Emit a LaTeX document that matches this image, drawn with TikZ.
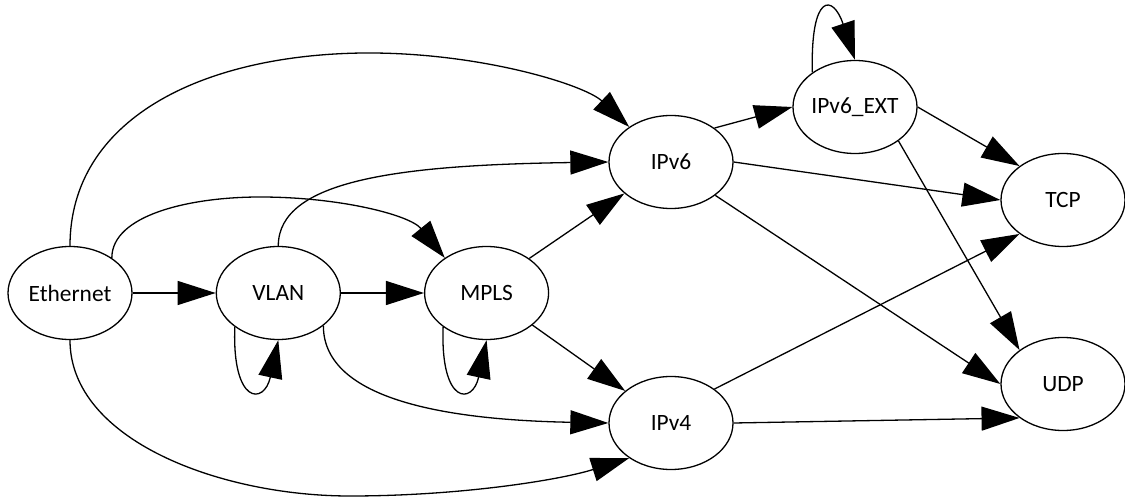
\documentclass[tikz,border=0pt]{standalone}
\usepackage{fontspec}
\setmainfont{Carlito}
\usetikzlibrary{arrows.meta}
\usetikzlibrary{shapes.geometric}
\usetikzlibrary{positioning}

\begin{document}
\begin{tikzpicture}[x=0.5pt,y=-0.5pt]

\tikzset{
    proto/.style={draw, ellipse, line width=0.65pt, minimum width=\W pt, minimum height=\H pt,
        inner sep=0pt, font=\fontsize{11.7}{14}\selectfont},
    myarrow/.style={-{Triangle[length=19pt,width=12pt]}, line width=0.65pt}
}

\pgfmathsetmacro{\W}{62}
\pgfmathsetmacro{\H}{46.5}

\useasboundingbox (0,0) rectangle (1125,497);

%%%%%%%%%%%%%%%%%%%%%%%%%%%%%%%%%%%%%%%%%%%%%%%%%%%%%%%%%
%                       Begin Picture                   %
%%%%%%%%%%%%%%%%%%%%%%%%%%%%%%%%%%%%%%%%%%%%%%%%%%%%%%%%%

% Link layer
\node[proto] (Ethernet) at (70,293) {Ethernet};
\node[proto, right=41.5pt of Ethernet] (VLAN) {VLAN};
\node[proto, right=41.5pt of VLAN] (MPLS) {MPLS};

% Network layer
\node[proto] (IPv6) at (671,162) {IPv6};
\node[proto] (IPv6EXT) at (855,107) {IPv6\_EXT};
\node[proto] (IPv4) at (671,423) {IPv4};

% Transport layer
\node[proto] (TCP) at (1063,200) {TCP};
\node[proto] (UDP) at (1063,384) {UDP};


%%% Ethernet %%%
\draw[myarrow] (Ethernet) -- (VLAN);
\draw[myarrow] (Ethernet.40) .. controls +(0,-43) and (190,197) .. (260,197)
    .. controls (340,197) and (410,215) .. (MPLS.140);
\draw[myarrow] (Ethernet.north) .. controls (70,120) and (200,55) .. (363,53)
    .. controls (480,52) and (585,85) .. (IPv6.140);
\draw[myarrow] (Ethernet.south) .. controls (70,440) and (220,496) .. (350,496)
    .. controls (460,496) and (560,480) .. (IPv4.220);

%%% VLAN %%%
\draw[myarrow] (VLAN) -- (MPLS);
\draw[myarrow] (VLAN.218) .. controls +(-3,78) and +(-14,65) .. (VLAN.south);
\draw[myarrow] (VLAN.north) .. controls +(0,-66) and (400,165) .. (IPv6.west);
\draw[myarrow] (VLAN.-36) .. controls +(0,75) and (450,420) .. (IPv4.west);

%%% MPLS %%%
\draw[myarrow] (MPLS.218) .. controls +(-3,78) and +(-14,65) .. (MPLS.south);
\draw[myarrow] (MPLS.39) -- (IPv6.214);
\draw[myarrow] (MPLS.-35) -- (IPv4.145);

%%% IPv6 %%%
\draw[myarrow] (IPv6.38) -- (IPv6EXT.west);
\draw[myarrow] (IPv6.east) -- (TCP.west);
\draw[myarrow] (IPv6.-37) -- (UDP.west);

%%% IPv6_EXT %%%
\draw[myarrow] (IPv6EXT.141) .. controls +(-2,-80) and +(-22,-66) .. (IPv6EXT.north);
\draw[myarrow] (IPv6EXT.east) -- (TCP.142);
\draw[myarrow] (IPv6EXT.-38) -- (UDP.142);

%%% IPv4 %%%
\draw[myarrow] (IPv4.38) -- (TCP.218);
\draw[myarrow] (IPv4.east) -- (UDP.218);

\end{tikzpicture}
\end{document}
